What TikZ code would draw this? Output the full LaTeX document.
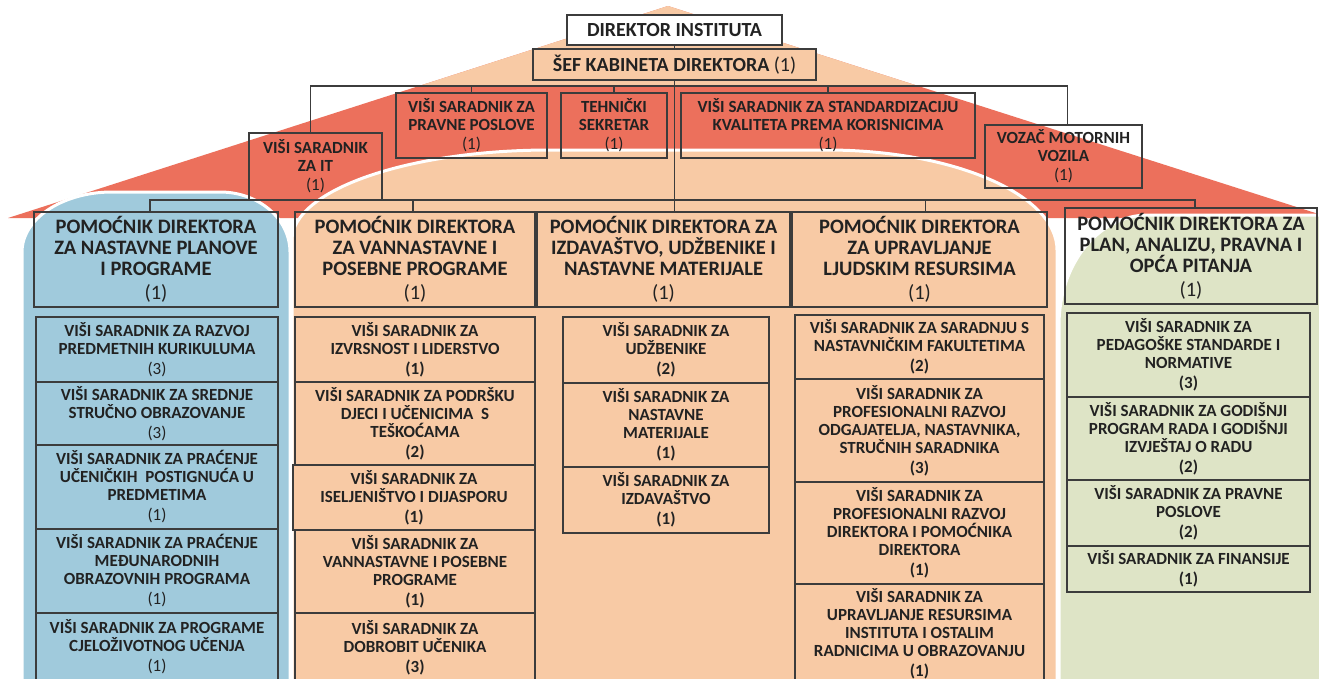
\documentclass[tikz,border=0pt]{standalone}
\usepackage{fontspec}
\setmainfont{Carlito}
\definecolor{peachc}{RGB}{248,202,165}
\definecolor{redc}{RGB}{236,112,92}
\definecolor{bluec}{RGB}{160,202,220}
\definecolor{greenc}{RGB}{222,228,198}
\definecolor{bordc}{RGB}{60,60,60}
\definecolor{txtc}{RGB}{34,34,34}
\newcommand\numreg[1]{{\mdseries(#1)}}
\newcommand\numbld[1]{(#1)}
\newcommand\obox[7]{%
  \pgfmathsetmacro\myBW{#5-#3}\pgfmathsetmacro\myBH{#6-#4}%
  \pgfmathsetmacro\myCX{(#3+#5)/2}\pgfmathsetmacro\myCY{(#4+#6)/2}%
  \node[#1, minimum width=\myBW pt, minimum height=\myBH pt] (#2) at (\myCX,\myCY) {#7};}
\begin{document}
\begin{tikzpicture}[x=1pt,y=-1pt,
  box/.style={draw=bordc, line width=1.2pt, inner sep=0pt, align=center, text=txtc,
    font=\bfseries\fontsize{17}{18}\selectfont},
  topbox/.style={box, font=\bfseries\fontsize{20}{20}\selectfont},
  pdbox/.style={box, font=\bfseries\fontsize{20.5}{21}\selectfont},
  conn/.style={draw=bordc, line width=1.2pt},
  bgshape/.style={draw=white, line width=3pt}]
\useasboundingbox (0,0) rectangle (1319,678);
\begin{scope}
\clip (0,0) rectangle (1319,678);
\fill[white] (0,0) rectangle (1319,678);
% roof
\fill[redc] (668,6) -- (8,218) -- (1331,218) -- cycle;
\begin{scope}
\clip (0,0) rectangle (1319,86);
\fill[peachc] (668,6) -- (8,218) -- (1331,218) -- cycle;
\end{scope}
% column backgrounds
\path[bgshape, fill=peachc] (292,700) -- (292,240) .. controls (292,190.3) and (407.5,150) .. (550,150)
  -- (827,150) .. controls (954,150) and (1057,194.8) .. (1057,250) -- (1057,700) -- cycle;
\path[bgshape, fill=bluec] (22,700) -- (22,252) .. controls (22,218.9) and (62.3,192) .. (112,192)
  -- (220,192) .. controls (258.7,192) and (290,218.9) .. (290,252) -- (290,700) -- cycle;
\path[bgshape, fill=greenc] (1059,700) -- (1059,325) .. controls (1059,264.2) and (1098.3,215) .. (1148,215)
  -- (1335,215) -- (1335,700) -- cycle;
% top
\obox{topbox, fill=white}{dir}{567}{15}{782}{45}{DIREKTOR INSTITUTA}
\obox{topbox, fill=peachc}{sef}{533}{49}{816}{80}{ŠEF KABINETA DIREKTORA \numreg{1}}
\obox{box}{it}{249}{133}{382}{200}{VIŠI SARADNIK\\ZA IT\\[1pt]\numreg{1}}
\obox{box}{pr}{396}{93}{547}{158}{VIŠI SARADNIK ZA\\PRAVNE POSLOVE\\[1pt]\numreg{1}}
\obox{box}{teh}{561}{93}{667}{158}{TEHNIČKI\\SEKRETAR\\[1pt]\numreg{1}}
\obox{box}{stnd}{681}{93}{975}{158}{VIŠI SARADNIK ZA STANDARDIZACIJU\\KVALITETA PREMA KORISNICIMA\\[1pt]\numreg{1}}
\obox{box}{voz}{985}{125}{1142}{188}{VOZAČ MOTORNIH\\VOZILA\\[1pt]\numreg{1}}
% assistant directors
\obox{pdbox}{pd1}{34}{212}{278}{307}{POMOĆNIK DIREKTORA\\ZA NASTAVNE PLANOVE\\I PROGRAME\\[3pt]\numreg{1}}
\obox{pdbox}{pd2}{295}{212}{535}{307}{POMOĆNIK DIREKTORA\\ZA VANNASTAVNE I\\POSEBNE PROGRAME\\[3pt]\numreg{1}}
\obox{pdbox}{pd3}{537}{212}{790}{307}{POMOĆNIK DIREKTORA ZA\\IZDAVAŠTVO, UDŽBENIKE I\\NASTAVNE MATERIJALE\\[3pt]\numreg{1}}
\obox{pdbox}{pd4}{792}{212}{1047}{307}{POMOĆNIK DIREKTORA\\ZA UPRAVLJANJE\\LJUDSKIM RESURSIMA\\[3pt]\numreg{1}}
\obox{pdbox}{pd5}{1065}{208}{1317}{304}{POMOĆNIK DIREKTORA ZA\\PLAN, ANALIZU, PRAVNA I\\OPĆA PITANJA\\[3pt]\numreg{1}}
% column 1
\obox{box}{c1a}{36}{317}{278}{382}{VIŠI SARADNIK ZA RAZVOJ\\PREDMETNIH KURIKULUMA\\[2pt]\numreg{3}}
\obox{box}{c1b}{36}{382}{278}{445}{VIŠI SARADNIK ZA SREDNJE\\STRUČNO OBRAZOVANJE\\[2pt]\numreg{3}}
\obox{box}{c1c}{36}{445}{278}{529}{VIŠI SARADNIK ZA PRAĆENJE\\UČENIČKIH\ \ POSTIGNUĆA U\\PREDMETIMA\\[2pt]\numreg{1}}
\obox{box}{c1d}{36}{529}{278}{613}{VIŠI SARADNIK ZA PRAĆENJE\\MEĐUNARODNIH\\OBRAZOVNIH PROGRAMA\\[2pt]\numreg{1}}
\obox{box}{c1e}{36}{613}{278}{680}{VIŠI SARADNIK ZA PROGRAME\\CJELOŽIVOTNOG UČENJA\\[2pt]\numreg{1}}
% column 2
\obox{box}{c2a}{295}{317}{535}{382}{VIŠI SARADNIK ZA\\IZVRSNOST I LIDERSTVO\\[2pt]\numbld{1}}
\obox{box}{c2b}{295}{382}{535}{465}{VIŠI SARADNIK ZA PODRŠKU\\DJECI I UČENICIMA\ \ S\\TEŠKOĆAMA\\[2pt]\numbld{2}}
\obox{box}{c2c}{293}{465}{535}{530}{VIŠI SARADNIK ZA\\ISELJENIŠTVO I DIJASPORU\\[2pt]\numbld{1}}
\obox{box}{c2d}{295}{530}{535}{613}{VIŠI SARADNIK ZA\\VANNASTAVNE I POSEBNE\\PROGRAME\\[2pt]\numbld{1}}
\obox{box}{c2e}{295}{613}{535}{682}{VIŠI SARADNIK ZA\\DOBROBIT UČENIKA\\[2pt]\numbld{3}}
% column 3
\obox{box}{c3a}{563}{317}{769}{383}{VIŠI SARADNIK ZA\\UDŽBENIKE\\[2pt]\numbld{2}}
\obox{box}{c3b}{563}{383}{769}{467}{VIŠI SARADNIK ZA\\NASTAVNE\\MATERIJALE\\[2pt]\numbld{1}}
\obox{box}{c3c}{563}{467}{769}{533}{VIŠI SARADNIK ZA\\IZDAVAŠTVO\\[2pt]\numbld{1}}
% column 4
\obox{box}{c4a}{795}{315}{1044}{379}{VIŠI SARADNIK ZA SARADNJU S\\NASTAVNIČKIM FAKULTETIMA\\[2pt]\numbld{2}}
\obox{box}{c4b}{795}{379}{1044}{482}{VIŠI SARADNIK ZA\\PROFESIONALNI RAZVOJ\\ODGAJATELJA, NASTAVNIKA,\\STRUČNIH SARADNIKA\\[2pt]\numbld{3}}
\obox{box}{c4c}{795}{482}{1044}{584}{VIŠI SARADNIK ZA\\PROFESIONALNI RAZVOJ\\DIREKTORA I POMOĆNIKA\\DIREKTORA\\[2pt]\numbld{1}}
\obox{box}{c4d}{795}{584}{1044}{683}{VIŠI SARADNIK ZA\\UPRAVLJANJE RESURSIMA\\INSTITUTA I OSTALIM\\RADNICIMA U OBRAZOVANJU\\[2pt]\numbld{1}}
% column 5
\obox{box}{c5a}{1067}{313}{1310}{397}{VIŠI SARADNIK ZA\\PEDAGOŠKE STANDARDE I\\NORMATIVE\\[2pt]\numbld{3}}
\obox{box}{c5b}{1067}{397}{1310}{480}{VIŠI SARADNIK ZA GODIŠNJI\\PROGRAM RADA I GODIŠNJI\\IZVJEŠTAJ O RADU\\[2pt]\numbld{2}}
\obox{box}{c5c}{1067}{480}{1310}{546}{VIŠI SARADNIK ZA PRAVNE\\POSLOVE\\[2pt]\numbld{2}}
\obox{box}{c5d}{1067}{546}{1310}{592}{VIŠI SARADNIK ZA FINANSIJE\\[2pt]\numbld{1}}
% connectors
\coordinate (bus1) at (0,86);
\coordinate (bus2) at (0,200);
\draw[conn] (dir.south) -- (sef.north);
\draw[conn] (sef.south) -- (sef.south |- pd3.north);
\draw[conn] ([xshift=-5pt]it.north) |- ([xshift=4pt]voz.north |- bus1) -- ([xshift=4pt]voz.north);
\draw[conn] (pr.north) -- (pr.north |- bus1);
\draw[conn] (teh.north) -- (teh.north |- bus1);
\draw[conn] (stnd.north) -- (stnd.north |- bus1);
\draw[conn] ([xshift=-6pt]pd1.north) |- ([xshift=4pt]pd5.north |- bus2) -- ([xshift=4pt]pd5.north);
\draw[conn] ([xshift=-2pt]pd2.north) -- ([xshift=-2pt]pd2.north |- bus2);
\draw[conn] ([xshift=6pt]pd4.north) -- ([xshift=6pt]pd4.north |- bus2);
\end{scope}
\end{tikzpicture}
\end{document}
